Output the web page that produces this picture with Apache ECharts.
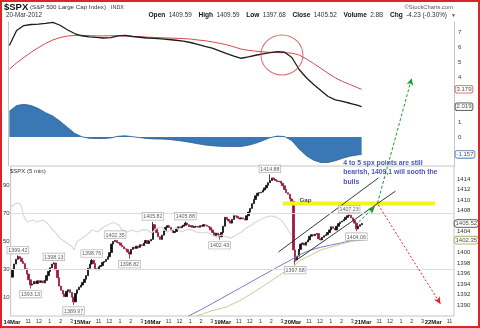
<!DOCTYPE html>
<html><head><meta charset="utf-8">
<script src="https://cdn.jsdelivr.net/npm/echarts@6/dist/echarts.min.js"></script>
<style>
html,body{margin:0;padding:0;background:#fff}
#wrap{position:relative;width:480px;height:328px}
#c{width:480px;height:328px}
#f{position:absolute;left:0;top:0;width:480px;height:328px;box-sizing:border-box;border:2px solid #dc2429;pointer-events:none}
</style>
</head><body>
<div id="wrap"><div id="c"></div><div id="f"></div></div>
<script>
// ---------- DATA ----------
const dayNames = ['14Mar','15Mar','16Mar','19Mar','20Mar','21Mar','22Mar'];
const barsPerDay = 78;              // 5-min bars per session
const hourBars = [18, 30, 42, 54, 66];
const hourNames = ['11', '12', '1', '2', '3'];

// 10-minute candles (index i sits at 5-min bar 2i+0.5)
const firstOpen = 1395.3;
const closes = [
1396.8,1397.8,1398.7,1399.2,1398.9,1398.3,1397.9,1396.9,1395.9,1394.8,
1393.8,1394.0,1394.5,1394.1,1394.6,1394.3,1394.6,1394.2,1394.7,1395.6,
1396.4,1397.1,1397.8,1398.0,1396.7,1395.2,1393.6,1392.8,1392.1,1391.6,
1392.6,1392.9,1392.4,1391.5,1390.6,1392.2,1392.9,1393.4,1393.8,1394.3,
1394.9,1395.6,1397.0,1397.8,1398.5,1397.9,1396.9,1396.7,1397.3,1397.5,
1398.1,1398.3,1398.7,1399.2,1400.0,1401.6,1402.1,1402.3,1401.9,1401.8,
1401.4,1401.1,1400.7,1400.6,1400.1,1399.7,1400.6,1401.0,1400.8,1401.2,
1401.0,1401.5,1401.3,1401.8,1402.3,1401.7,1402.2,1402.5,1405.3,1404.5,
1403.8,1403.0,1402.5,1403.3,1404.1,1404.8,1405.1,1404.8,1404.2,1403.8,
1404.0,1404.6,1404.9,1404.7,1405.0,1405.2,1405.6,1405.3,1404.9,1405.1,
1404.8,1404.9,1405.0,1404.8,1405.1,1405.0,1405.3,1405.2,1405.0,1404.8,
1404.3,1403.8,1403.2,1403.7,1403.4,1403.0,1403.8,1405.0,1406.7,1406.3,
1406.0,1405.6,1406.3,1407.0,1406.9,1406.6,1406.4,1406.6,1406.4,1406.2,
1407.0,1407.7,1408.4,1409.3,1410.1,1410.8,1411.3,1411.4,1411.5,1411.9,
1412.3,1412.8,1413.3,1413.7,1414.2,1413.9,1413.7,1413.5,1413.6,1413.2,
1412.7,1412.0,1411.4,1411.1,1410.2,1409.75,1400.5,1398.6,1399.3,1400.6,
1401.6,1401.8,1401.4,1402.0,1402.4,1403.1,1403.4,1403.2,1403.5,1403.6,
1402.6,1402.4,1402.9,1403.2,1403.4,1403.8,1404.3,1404.9,1404.6,1404.3,
1405.0,1405.5,1405.8,1406.0,1406.3,1406.7,1407.0,1407.1,1406.6,1406.1,
1405.6,1404.5,1405.0,1405.3,1405.52
];
const extremeIdx  = [3, 10, 23, 34, 44, 57, 65, 78, 96, 115, 143, 157, 187, 191];
const extremeVals = [1399.42,1393.13,1398.13,1389.97,1398.76,1402.35,1398.82,1405.82,1405.88,1402.43,1414.88,1397.68,1407.23,1404.06];
const extremeSide = ['top','bottom','top','bottom','top','top','bottom','top','top','bottom','top','bottom','top','bottom'];

// grey comparison line (left scale)
const greyBars = [-1,3,7,10,12,14,17,23,28,34,39,45,48,50,53,56,61,67,69,72,78,83,89,95,100,106,111,114,119,122,128,133,139,144,150,155,161,166,172,177,183,188,194,200,205,211,216,222,227,233,238,244,249,255,260,266,271,277,282,288,293,299,304,310];
const greyVals = [74.3,76.4,77.1,75.7,70,66.4,63.6,65,63.6,65,62.9,57.9,56.4,55.7,52.1,50.7,48.6,45.7,43.6,49.3,52.1,54.3,57.9,56.4,59.3,61.4,62.9,62.9,61.4,57.9,56.4,57.9,56.4,57.9,57.9,55.7,59.3,60,56.4,57.9,59.3,56.4,57.9,57.9,56.4,55.7,56.4,54.3,52.9,54.3,52.9,52.1,54.3,56.4,59.3,61.4,63.6,65.7,67.1,67.9,67.1,65,60.7,54.3];
const greyGridVals = [70, 30];
const greyTicks = [10, 30, 50, 70, 90];

// moving averages
const blueBars = [196,211,233,255,277,299,310,321,332,343,354,365,376,389];
const blueVals = [1387.9,1389.2,1391.3,1393.4,1395.5,1397.6,1398.6,1399.7,1400.5,1401.0,1401.4,1401.8,1402.2,1402.4];
const oliveBars = [205,222,238,255,271,288,299,310,321,332,343,354,365,379,389];
const oliveVals = [1387.9,1388.9,1389.6,1391.0,1392.7,1394.6,1395.9,1397.0,1398.6,1399.5,1400.5,1401.0,1401.6,1402.2,1402.35];

// MACD panel
const oscBars = [0,8,16,24,32,40,48,56,64,72,80,88,96,104,112,120,128,136,144,152,160,168,176,184,192,200,208,216,224,232,240,248,256,264,272,280,288,296,304,312,320,328,336,344,352,360,368,376,384,389];
const macdLine = [6.1,7.1,7.43,7.5,7.52,7.57,7.64,7.45,7.15,6.9,6.75,6.68,6.64,6.6,6.62,6.74,6.77,6.7,6.65,6.6,6.58,6.54,6.5,6.45,6.39,6.3,6.18,6.04,5.93,5.74,5.56,5.39,5.25,5.34,5.45,5.54,5.62,5.69,5.65,5.3,4.5,3.95,3.5,3.1,2.7,2.47,2.37,2.25,2.12,2.02];
const signalLine = [4.52,4.94,5.3,5.65,5.96,6.24,6.47,6.63,6.73,6.77,6.78,6.76,6.74,6.74,6.75,6.75,6.73,6.71,6.69,6.66,6.64,6.62,6.6,6.58,6.56,6.53,6.47,6.42,6.34,6.25,6.15,6.01,5.86,5.78,5.72,5.68,5.64,5.63,5.62,5.59,5.47,5.2,4.9,4.58,4.25,3.94,3.7,3.5,3.3,3.18];
const macdHist = [1.72,2.1,2.18,2.1,1.9,1.62,1.4,1.05,0.65,0.25,0.02,-0.08,-0.1,-0.1,-0.06,0.05,0.08,0.02,-0.04,-0.1,-0.13,-0.14,-0.16,-0.22,-0.28,-0.36,-0.45,-0.53,-0.58,-0.62,-0.63,-0.64,-0.63,-0.55,-0.42,-0.24,-0.04,0.06,0.03,-0.25,-0.8,-1.25,-1.55,-1.7,-1.7,-1.58,-1.42,-1.28,-1.2,-1.16];
const oscLastVals = [3.179, 2.019, -1.157];
const oscTicks = [0, 1, 4, 5, 6, 7];
const circleCenter = [301, 5.47];

// price axis ticks / last values
const priceTicks = [1390,1392,1394,1396,1398,1400,1404,1408,1410,1412,1414];
const priceLastVals = [1405.52, 1402.35];

// drawn annotations (bar, price)
const channelUpperBars = [296, 407], channelUpperVals = [1400.1, 1414.2];
const channelLowerBars = [313, 426], channelLowerVals = [1398.2, 1411.7];
const gapBandBars = [301, 470], gapBandVal = 1409.33;
const gapTextPos = [326, 1410.0];
const greenArrow1Bars = [385, 403], greenArrow1Vals = [1405.8, 1408.7];
const greenArrow2Bars = [406, 444], greenArrow2Vals = [1409.4, 1433.2];
const redArrowBars = [407, 476], redArrowVals = [1409.05, 1390.2];
const notePos = [368.6, 1417.9];
const noteLines = ['4 to 5 spx points are still', 'bearish, 1409,1 will sooth the', 'bulls'];

// header
const hdr = {open:'1409.59', high:'1409.59', low:'1397.68', close:'1405.52', volume:'2.8B', chg:'-4.23 (-0.30%)'};

// ---------- CHART ----------
const FONT = "'Liberation Sans', Arial, Helvetica, sans-serif";
const chart = echarts.init(document.getElementById('c'), null, {renderer:'canvas', width:480, height:328});

const candleData = closes.map((c, i) => {
  const o = i === 0 ? firstOpen : closes[i - 1];
  let lo = Math.min(o, c), hi = Math.max(o, c);
  const k = extremeIdx.indexOf(i);
  if (k >= 0) {
    if (extremeSide[k] === 'top') hi = Math.max(hi, extremeVals[k]);
    else lo = Math.min(lo, extremeVals[k]);
  }
  return [2 * i + 0.5, o, c, lo, hi];
});
const extTop = [], extBot = [];
extremeIdx.forEach((ix, k) => {
  (extremeSide[k] === 'top' ? extTop : extBot).push([2 * ix + 0.5, extremeVals[k]]);
});

const X_MIN = -1.5, X_MAX = 491;
const xTickVals = [], xTickText = {};
dayNames.forEach((d, di) => {
  const s = di * barsPerDay;
  xTickVals.push(s); xTickText[s] = '{d|' + d + '}';
  hourBars.forEach((h, hi) => { if (s + h <= X_MAX) { xTickVals.push(s + h); xTickText[s + h] = hourNames[hi]; } });
});

const zip = (a, b) => a.map((v, i) => [v, b[i]]);
const plain = v => String(v);
const boxLabel = {show:true, fontSize:5.3, fontFamily:FONT, color:'#333', backgroundColor:'#fff',
  borderColor:'#9a9a9a', borderWidth:0.6, padding:[1,1,0,1], lineHeight:6,
  formatter: p => p.value[1].toFixed(2)};

function arrow(bars, vals, color, dash, rot) {
  return {type:'line', xAxisIndex:1, yAxisIndex:1, clip:false, silent:true, z:6, symbol:'none', showSymbol:true,
    data:[[bars[0], vals[0]], {value:[bars[1], vals[1]], symbol:'arrow', symbolSize:[5,7], symbolRotate:rot}],
    lineStyle:{color:color, width:1, type:dash}, itemStyle:{color:color}};
}

const option = {
  animation:false,
  textStyle:{fontFamily:FONT},
  grid:[
    {left:8, right:26, top:22, bottom:162, show:false},
    {left:8, right:26, top:166, bottom:12, show:true, borderColor:'#c4c4c4', borderWidth:1}
  ],
  xAxis:[
    {type:'value', gridIndex:0, min:X_MIN, max:X_MAX, axisLine:{show:false}, axisTick:{show:false}, axisLabel:{show:false}, splitLine:{show:false}},
    {type:'value', gridIndex:1, min:X_MIN, max:X_MAX, axisLine:{show:false}, axisTick:{show:false}, splitLine:{show:false},
      axisLabel:{show:true, customValues:xTickVals, formatter:v => xTickText[v] || '', fontSize:5.4, color:'#333', margin:3,
        rich:{d:{fontWeight:'bold', fontSize:5.9, color:'#111', fontFamily:FONT}}}}
  ],
  yAxis:[
    {type:'value', gridIndex:0, position:'right', min:-1.933, max:7.667, axisLine:{show:true, onZero:false, lineStyle:{color:'#c4c4c4'}},
      axisTick:{show:false}, splitLine:{show:false}, axisLabel:{customValues:oscTicks, formatter:plain, fontSize:6, color:'#333', margin:4}},
    {type:'value', gridIndex:1, position:'right', min:1387.905, max:1416.476, axisLine:{show:false}, axisTick:{show:false},
      splitLine:{show:false}, axisLabel:{customValues:priceTicks, formatter:plain, fontSize:6, color:'#333', margin:3}},
    {type:'value', gridIndex:1, position:'left', min:-3.571, max:103.571, axisLine:{show:false}, axisTick:{show:false},
      splitLine:{show:false}, axisLabel:{customValues:greyTicks, formatter:plain, fontSize:6, color:'#333', margin:1}},
    {type:'value', gridIndex:0, position:'left', min:-1.933, max:7.667, axisLine:{show:true, onZero:false, lineStyle:{color:'#c4c4c4'}},
      axisTick:{show:false}, splitLine:{show:false}, axisLabel:{show:false}}
  ],
  graphic:[
    {type:'text', x:4, y:7, style:{text:'$SPX', font:'bold 9.5px ' + FONT, fill:'#111', textVerticalAlign:'middle'}},
    {type:'text', x:30, y:7.5, style:{text:'(S&P 500 Large Cap Index)', font:'6.2px ' + FONT, fill:'#333', textVerticalAlign:'middle'}},
    {type:'text', x:111, y:7.5, style:{text:'INDX', font:'5.4px ' + FONT, fill:'#333', textVerticalAlign:'middle'}},
    {type:'text', x:6, y:15, style:{text:'20-Mar-2012', font:'6.3px ' + FONT, fill:'#333', textVerticalAlign:'middle'}},
    {type:'text', x:453, y:7, style:{text:'\u00a9StockCharts.com', font:'5.8px ' + FONT, fill:'#555', textAlign:'right', textVerticalAlign:'middle'}},
    {type:'text', x:447, y:15, style:{
      text:'{k|Open} {v|' + hdr.open + '}  {k|High} {v|' + hdr.high + '}  {k|Low} {v|' + hdr.low + '}  {k|Close} {v|' + hdr.close +
           '}  {k|Volume} {v|' + hdr.volume + '}  {k|Chg} {v|' + hdr.chg + '}',
      textAlign:'right', textVerticalAlign:'middle',
      rich:{k:{fontWeight:'bold', fontSize:6.6, fontFamily:FONT, fill:'#111'}, v:{fontSize:6.4, fontFamily:FONT, fill:'#333'}}}},
    {type:'text', x:451, y:15.5, style:{text:'\u25bc', font:'5px ' + FONT, fill:'#d02020', textVerticalAlign:'middle'}},
    {type:'text', x:10, y:171.5, style:{text:'$SPX (5 min)', font:'6px ' + FONT, fill:'#333', textVerticalAlign:'middle'}}
  ],
  series:[
    // MACD histogram
    {type:'line', xAxisIndex:0, yAxisIndex:0, data:zip(oscBars, macdHist), showSymbol:false, silent:true,
      lineStyle:{color:'#2b5d90', width:0.8}, areaStyle:{color:'#3a78b5', opacity:1, origin:0}},
    {type:'line', xAxisIndex:0, yAxisIndex:0, data:zip(oscBars, signalLine), showSymbol:false, silent:true,
      lineStyle:{color:'#d9474c', width:1}},
    {type:'line', xAxisIndex:0, yAxisIndex:0, data:zip(oscBars, macdLine), showSymbol:false, silent:true,
      lineStyle:{color:'#1c1c1c', width:1.3}},
    {type:'scatter', xAxisIndex:0, yAxisIndex:0, data:[circleCenter], symbol:'circle', symbolSize:[42,40], silent:true, z:5,
      itemStyle:{color:'rgba(0,0,0,0)', borderColor:'#d24b4b', borderWidth:1}},
    {type:'scatter', xAxisIndex:0, yAxisIndex:0, clip:false, silent:true, symbolSize:1, itemStyle:{color:'rgba(0,0,0,0)'},
      data:oscLastVals.map((v, i) => ({value:[X_MAX, v], label:{borderColor:['#d04545','#222','#2e6aa8'][i]}})),
      label:{show:true, position:'right', distance:1, fontSize:6, color:'#222', backgroundColor:'#fff', borderWidth:0.8,
        borderRadius:2, padding:[1,1,0,1], formatter:p => p.value[1].toFixed(3)}},

    // price panel
    {type:'line', xAxisIndex:1, yAxisIndex:2, data:zip(greyBars, greyVals), showSymbol:false, silent:true,
      lineStyle:{color:'#d9d9d9', width:1.2},
      markLine:{silent:true, symbol:'none', label:{show:false}, lineStyle:{color:'#dcdcdc', width:1, type:'solid'},
        data:greyGridVals.map(v => ({yAxis:v}))}},
    {type:'line', xAxisIndex:1, yAxisIndex:1, data:zip(blueBars, blueVals), showSymbol:false, silent:true,
      lineStyle:{color:'#7c7cc8', width:1}},
    {type:'line', xAxisIndex:1, yAxisIndex:1, data:zip(oliveBars, oliveVals), showSymbol:false, silent:true,
      lineStyle:{color:'#cbcb8e', width:1}},
    {type:'line', xAxisIndex:1, yAxisIndex:1, data:gapBandBars.map(b => [b, gapBandVal]), showSymbol:false, silent:true,
      lineStyle:{color:'#f4f41c', width:4}},
    {type:'candlestick', xAxisIndex:1, yAxisIndex:1, data:candleData, encode:{x:0, y:[1,2,3,4]}, barWidth:1.9, silent:true,
      itemStyle:{color:'#111', color0:'#9c1a3c', borderColor:'#111', borderColor0:'#9c1a3c', borderWidth:0.8}},
    {type:'line', xAxisIndex:1, yAxisIndex:1, data:zip(channelUpperBars, channelUpperVals), showSymbol:false, silent:true,
      lineStyle:{color:'#222', width:0.9}},
    {type:'line', xAxisIndex:1, yAxisIndex:1, data:zip(channelLowerBars, channelLowerVals), showSymbol:false, silent:true,
      lineStyle:{color:'#222', width:0.9}},
    arrow(greenArrow1Bars, greenArrow1Vals, '#1f9a2a', [3,2], -47),
    arrow(greenArrow2Bars, greenArrow2Vals, '#1f9a2a', [3,2], -15),
    arrow(redArrowBars, redArrowVals, '#e02424', [2,2], -148),
    {type:'scatter', xAxisIndex:1, yAxisIndex:1, data:extTop, symbolSize:1, silent:true, z:7, itemStyle:{color:'rgba(0,0,0,0)'},
      label:Object.assign({position:'top', distance:1.5}, boxLabel)},
    {type:'scatter', xAxisIndex:1, yAxisIndex:1, data:extBot, symbolSize:1, silent:true, z:7, itemStyle:{color:'rgba(0,0,0,0)'},
      label:Object.assign({position:'bottom', distance:1.5}, boxLabel)},
    {type:'scatter', xAxisIndex:1, yAxisIndex:1, data:[gapTextPos], symbolSize:1, silent:true, z:7, itemStyle:{color:'rgba(0,0,0,0)'},
      label:{show:true, position:'inside', formatter:'Gap', fontSize:6.2, fontWeight:'bold', color:'#111'}},
    {type:'scatter', xAxisIndex:1, yAxisIndex:1, clip:false, data:[notePos], symbolSize:1, silent:true, z:8, itemStyle:{color:'rgba(0,0,0,0)'},
      label:{show:true, position:[0,0], align:'left', verticalAlign:'top', formatter:noteLines.join('\n'),
        fontSize:6.8, fontWeight:'bold', color:'#1a2ca0', lineHeight:9.5}},
    {type:'scatter', xAxisIndex:1, yAxisIndex:1, clip:false, silent:true, symbolSize:1, z:8, itemStyle:{color:'rgba(0,0,0,0)'},
      data:priceLastVals.map((v, i) => ({value:[X_MAX, v], label:{borderColor:['#222','#9a9a3c'][i]}})),
      label:{show:true, position:'right', distance:0, fontSize:6, color:'#222', backgroundColor:'#fff', borderWidth:0.8,
        borderRadius:3, padding:[1,1,0,1], formatter:p => p.value[1].toFixed(2)}}
  ]
};
chart.setOption(option);
</script>
</body></html>
